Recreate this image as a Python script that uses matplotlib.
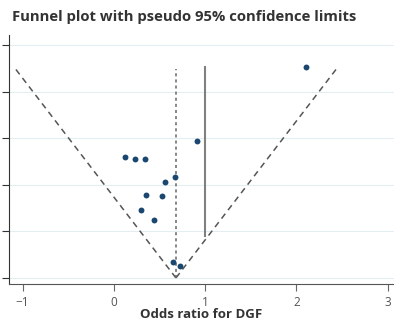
import numpy as np
import matplotlib.pyplot as plt

# study estimates (odds ratio scale as plotted) and their standard errors
effect = [2.10, 0.915, 0.124, 0.234, 0.344, 0.557, 0.674, 0.348, 0.527, 0.297, 0.443, 0.652, 0.725]
se = [0.907, 0.589, 0.521, 0.509, 0.511, 0.413, 0.432, 0.356, 0.352, 0.292, 0.249, 0.070, 0.052]

pooled = 0.68
null_line_x = 1.0
null_line_span = [0.18, 0.906]

x_ticks = [-1, 0, 1, 2, 3]
y_ticks = [0, 0.2, 0.4, 0.6, 0.8, 1.0]
y_tick_labels = ["0", ".2", ".4", ".6", ".8", "1"]

plt.rcParams["font.family"] = ["Open Sans", "DejaVu Sans"]

fig = plt.figure(figsize=(3.94, 3.2), dpi=100)
ax = fig.add_axes([9 / 394, 36 / 320, 385 / 394, 249 / 320])

# pseudo 95% confidence limits
se_max = max(se)
se_line = np.array([0, se_max])
ax.plot(pooled - 1.96 * se_line, se_line, color="#555555", linestyle=(0, (4, 3)), linewidth=1.1)
ax.plot(pooled + 1.96 * se_line, se_line, color="#555555", linestyle=(0, (4, 3)), linewidth=1.1)
ax.plot([pooled, pooled], [0, se_max - 0.012], color="#666666", linestyle=(0, (2, 2)), linewidth=1.1)
ax.plot([null_line_x, null_line_x], null_line_span, color="#808080", linewidth=1.5)

ax.scatter(effect, se, s=18, color="#1a476f", zorder=3, linewidths=0)

ax.set_xlim(-1.15, 3.07)
ax.set_ylim(-0.026, 1.043)
ax.set_xticks(x_ticks)
ax.set_yticks(y_ticks)
ax.set_yticklabels(y_tick_labels)
ax.grid(axis="y", color="#e4edf2", linewidth=0.8)
ax.set_axisbelow(True)

for side in ["top", "right"]:
    ax.spines[side].set_visible(False)
ax.spines["left"].set_color("#333333")
ax.spines["bottom"].set_color("#555555")
ax.tick_params(axis="y", length=5, pad=2, labelsize=8, colors="#333333", labelcolor="#9fb8cc")
ax.tick_params(axis="x", length=5, pad=4, labelsize=8.5, colors="#666666", labelcolor="#555555")

ax.set_xlabel("Odds ratio for DGF", fontsize=9.5, fontweight="bold", color="#333333", labelpad=-1)
fig.text(12 / 394, 1 - 17 / 320, "Funnel plot with pseudo 95% confidence limits",
         fontsize=10.7, fontweight="bold", color="#333333", va="center", ha="left")

fig.savefig("out.png", dpi=100)
